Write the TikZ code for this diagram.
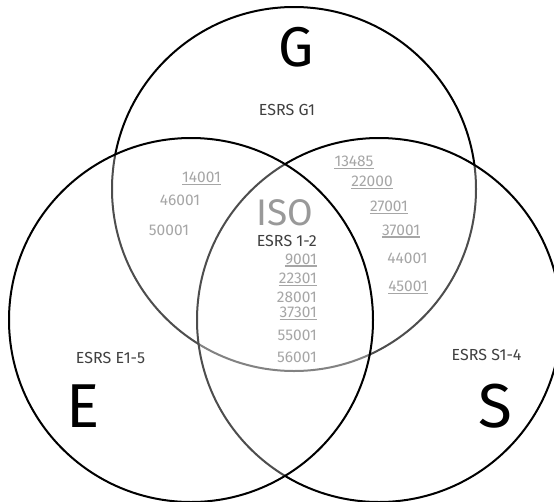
\documentclass[tikz,border=0pt]{standalone}
\usepackage{fontspec}
\setmainfont{Fira Sans}
\begin{document}
\begin{tikzpicture}[x=1pt,y=-1pt,
	ring/.style={draw=black, line width=2pt},
	veil/.style={ring, fill=white, fill opacity=.3},
	num/.style={inner sep=0pt, anchor=base, font=\fontsize{15.5}{15.5}\selectfont, text=black!35},
	esrs/.style={inner sep=0pt, anchor=base, font=\fontsize{16}{16}\selectfont, text=black!75},
	big/.style={inner sep=0pt, anchor=base, font=\fontsize{62}{62}\selectfont, text=black},
	uline/.style={draw=black!35, line width=1.2pt}]
 \useasboundingbox (0,0) rectangle (554,501);
	\begin{scope}
 \clip (0,0) rectangle (554,501);
 \draw[ring] (294,189) circle (182pt);
 \draw[veil] (379,320) circle (182pt);
 \draw[veil] (191,320) circle (182pt);
	\end{scope}

 \node[big, font=\fontsize{56}{56}\selectfont] (g) at (296,66) {G};
 \node[big] (e) at (83,427) {E};
 \node[big] (s) at (495,427) {S};

 \node[esrs] (g1) at (287,115) {ESRS G1};
 \node[esrs] (e15) at (110.5,363) {ESRS E1-5};
 \node[esrs] (s14) at (486.5,360) {ESRS S1-4};

 \node[inner sep=0pt, anchor=base east, font=\fontsize{37}{37}\selectfont, text=black!40] (iso) at (313,225) {ISO};
 \node[esrs, anchor=base east] (esrs12) at (317,246.5) {ESRS 1-2};
 \node[num, anchor=base east] (n9001) at (317,264) {9001};
 \node[num, anchor=base east] (n22301) at (317,283.3) {22301};
 \node[num, anchor=base east] (n28001) at (317,302.5) {28001};
 \node[num, anchor=base east] (n37301) at (317,317.3) {37301};
 \node[num, anchor=base east] (n55001) at (317,340.5) {55001};
 \node[num, anchor=base east] (n56001) at (317,362.5) {56001};

 \node[num] (n14001) at (201.5,182.7) {14001};
 \node[num] (n46001) at (180,205) {46001};
 \node[num] (n50001) at (169,235) {50001};

 \node[num] (n13485) at (354,166.7) {13485};
 \node[num] (n22000) at (372,186.7) {22000};
 \node[num] (n27001) at (389,211.7) {27001};
 \node[num] (n37001) at (401,235) {37001};
 \node[num] (n44001) at (407.5,263.3) {44001};
 \node[num] (n45001) at (408,291.7) {45001};

 \draw[uline] ([yshift=-2pt]n9001.base west) -- ([yshift=-2pt]n9001.base east);
 \draw[uline] ([yshift=-2pt]n22301.base west) -- ([yshift=-2pt]n22301.base east);
 \draw[uline] ([yshift=-2pt]n37301.base west) -- ([yshift=-2pt]n37301.base east);
 \draw[uline] ([yshift=-2pt]n14001.base west) -- ([yshift=-2pt]n14001.base east);
 \draw[uline] ([yshift=-2pt]n13485.base west) -- ([yshift=-2pt]n13485.base east);
 \draw[uline] ([yshift=-2pt]n22000.base west) -- ([yshift=-2pt]n22000.base east);
 \draw[uline] ([yshift=-2pt]n27001.base west) -- ([yshift=-2pt]n27001.base east);
 \draw[uline] ([yshift=-2pt]n37001.base west) -- ([yshift=-2pt]n37001.base east);
 \draw[uline] ([yshift=-2pt]n45001.base west) -- ([yshift=-2pt]n45001.base east);
\end{tikzpicture}
\end{document}
